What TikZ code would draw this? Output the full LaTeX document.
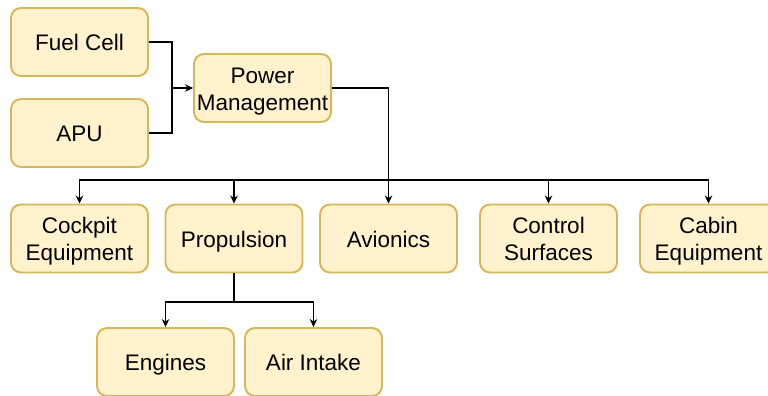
\documentclass[tikz,border=0pt]{standalone}
\usepackage{fontspec}
\setmainfont{Liberation Sans}
\usepackage{xcolor}
\usepackage{tikz}
\usetikzlibrary{arrows.meta,positioning,calc}

\definecolor{boxfill}{HTML}{FFF2CC}
\definecolor{boxline}{HTML}{D6B656}
% box label, one or more lines; the extra top room sets the text a bit low
\newcommand{\unitlbl}[1]{\raisebox{0pt}[\dimexpr\height+4pt\relax][\depth]{%
  \begin{tabular}{@{}c@{}}#1\end{tabular}}}

\begin{document}
\begin{tikzpicture}[
  every node/.style={font=\fontsize{12.8}{15.4}\selectfont},
  unit/.style={draw=boxline,fill=boxfill,line width=1.1pt,rounded corners=0.2cm,
    minimum width=2.74cm,minimum height=1.36cm,inner sep=0pt},
  link/.style={line width=0.6pt,black},
  arr/.style={link,-{Stealth[length=1.6mm,width=1.5mm,inset=0.5mm]}}]
 \useasboundingbox (0,0) rectangle (15.36,-7.92);
 \clip (0,0) rectangle (15.36,-7.92);
 % power sources
 \node[unit] (fc)  at (1.59,-0.84) {\unitlbl{Fuel Cell}};
 \node[unit] (apu) at (1.59,-2.66) {\unitlbl{APU}};
 \node[unit] (pm)  at (5.25,-1.76) {\unitlbl{Power\\Management}};
 % consumers
 \node[unit] (cp) at (1.59,-4.77)  {\unitlbl{Cockpit\\Equipment}};
 \node[unit] (pr) at (4.68,-4.77)  {\unitlbl{Propulsion}};
 \node[unit] (av) at (7.77,-4.77)  {\unitlbl{Avionics}};
 \node[unit] (cs) at (10.97,-4.77) {\unitlbl{Control\\Surfaces}};
 \node[unit] (cb) at (14.17,-4.77) {\unitlbl{Cabin\\Equipment}};
 \node[unit] (en) at (3.31,-7.24)  {\unitlbl{Engines}};
 \node[unit] (ai) at (6.27,-7.24)  {\unitlbl{Air Intake}};
 % wiring
 \coordinate (src) at (3.44,-1.76);
 \coordinate (bus) at (7.77,-3.6);
 \coordinate (pj)  at (4.68,-6.04);
 \draw[link] (fc.east) -| (src);
 \draw[link] (apu.east) -| (src);
 \draw[arr] (src) -- (pm.west);
 \draw[arr,line width=0.8pt] (pm.east) -| (av.north);
 \foreach \n in {cp,pr,cs,cb}
   \draw[arr] (bus) -| (\n.north);
 \draw[link] (pr.south) -- (pj);
 \draw[arr] (pj) -| (en.north);
 \draw[arr] (pj) -| (ai.north);
\end{tikzpicture}
\end{document}
